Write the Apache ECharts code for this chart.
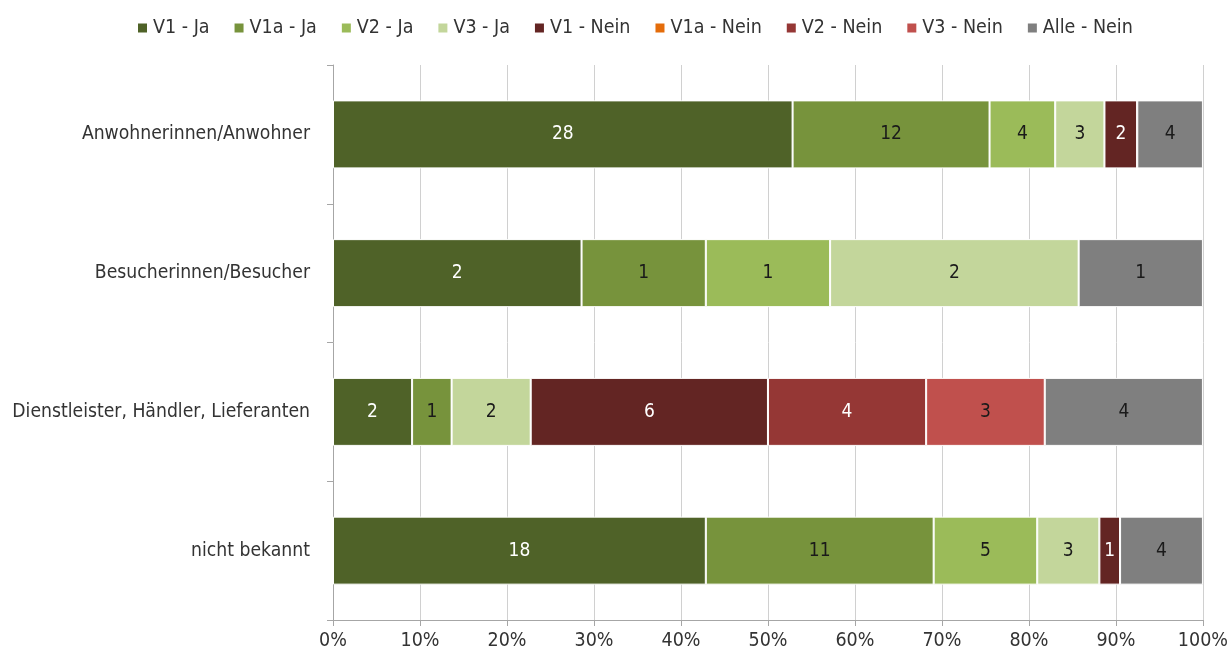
<!DOCTYPE html>
<html><head><meta charset="utf-8">
<script src="https://cdn.jsdelivr.net/npm/echarts@6/dist/echarts.min.js"></script>
<style>html,body{margin:0;padding:0;background:#fff}#c{width:1231px;height:658px}</style>
</head><body><div id="c"></div>
<script>
const categories = ['Anwohnerinnen/Anwohner', 'Besucherinnen/Besucher', 'Dienstleister, Händler, Lieferanten', 'nicht bekannt'];
const seriesNames = ['V1 - Ja', 'V1a - Ja', 'V2 - Ja', 'V3 - Ja', 'V1 - Nein', 'V1a - Nein', 'V2 - Nein', 'V3 - Nein', 'Alle - Nein'];
const v1Ja    = [28, 2, 2, 18];
const v1aJa   = [12, 1, 1, 11];
const v2Ja    = [4, 1, 0, 5];
const v3Ja    = [3, 2, 2, 3];
const v1Nein  = [2, 0, 6, 1];
const v1aNein = [0, 0, 0, 0];
const v2Nein  = [0, 0, 4, 0];
const v3Nein  = [0, 0, 3, 0];
const alleNein= [4, 1, 4, 4];
const tickLabels = ['0%','10%','20%','30%','40%','50%','60%','70%','80%','90%','100%'];

const allSeries = [v1Ja, v1aJa, v2Ja, v3Ja, v1Nein, v1aNein, v2Nein, v3Nein, alleNein];
const colors = ['#4f6228', '#77933c', '#9bbb59', '#c3d69b', '#632523', '#e46c0a', '#953735', '#c0504d', '#7f7f7f'];
const labelColors = ['#ffffff', '#1a1a1a', '#1a1a1a', '#1a1a1a', '#ffffff', '#1a1a1a', '#ffffff', '#1a1a1a', '#1a1a1a'];
const totals = categories.map((_, i) => allSeries.reduce((s, a) => s + a[i], 0));
const FONT = '"Liberation Sans Narrow", "DejaVu Sans Condensed", "Noto Sans", sans-serif';

const chart = echarts.init(document.getElementById('c'), null, {renderer: 'canvas'});
chart.setOption({
  animation: false,
  textStyle: {fontFamily: FONT},
  color: colors,
  legend: {
    top: 13, left: 131, itemWidth: 11, itemHeight: 11, itemGap: 23,
    icon: 'rect',
    textStyle: {fontFamily: FONT, fontSize: 19.5, color: '#333'},
    data: seriesNames
  },
  grid: {left: 333, right: 25, top: 65, bottom: 38, containLabel: false},
  xAxis: {
    type: 'value', min: 0, max: 100, interval: 10,
    axisLine: {show: true, lineStyle: {color: '#a6a6a6', width: 1}},
    axisTick: {show: true, length: 6, lineStyle: {color: '#a6a6a6'}},
    splitLine: {show: true, lineStyle: {color: '#d0d0d0', width: 1}},
    axisLabel: {formatter: v => tickLabels[Math.round(v / 10)], fontFamily: FONT, fontSize: 19.5, color: '#333', margin: 11}
  },
  yAxis: {
    type: 'category', inverse: true, data: categories,
    axisLine: {show: true, lineStyle: {color: '#a6a6a6', width: 1}},
    axisTick: {show: true, length: 6, lineStyle: {color: '#a6a6a6'}},
    axisLabel: {fontFamily: FONT, fontSize: 19.2, color: '#333', margin: 23}
  },
  series: allSeries.map((arr, si) => ({
    name: seriesNames[si], type: 'bar', stack: 'total', barWidth: 68,
    itemStyle: {color: colors[si], borderColor: '#ffffff', borderWidth: 1},
    label: {
      show: true, position: 'inside', fontFamily: FONT, fontSize: 19, color: labelColors[si],
      formatter: p => arr[p.dataIndex] > 0 ? String(arr[p.dataIndex]) : ''
    },
    data: arr.map((v, i) => v / totals[i] * 100)
  }))
});
</script></body></html>
